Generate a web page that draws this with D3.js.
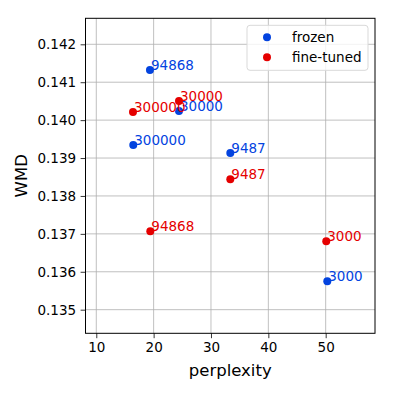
<!DOCTYPE html>
<html>
<head>
<meta charset="utf-8">
<script src="https://cdn.jsdelivr.net/npm/d3@7"></script>
<style>
  body { margin: 0; background: #fff; }
  text { font-family: "DejaVu Sans", sans-serif; }
</style>
</head>
<body>
<svg id="drawing_region"></svg>
<script>
// dataset sizes used as point labels
const labels = ["94868", "30000", "300000", "9487", "3000"];

const frozenPerplexity = [19.36, 24.42, 16.45, 33.37, 50.28];
const frozenWMD = [0.141322, 0.140241, 0.139344, 0.139133, 0.135748];

const tunedPerplexity = [19.42, 24.42, 16.40, 33.37, 50.10];
const tunedWMD = [0.137067, 0.140504, 0.140214, 0.138439, 0.136804];

const xTicks = [10, 20, 30, 40, 50];
const yTicks = [0.135, 0.136, 0.137, 0.138, 0.139, 0.140, 0.141, 0.142];

const series = [
    {name: "frozen", color: "#0343df", x: frozenPerplexity, y: frozenWMD},
    {name: "fine-tuned", color: "#e50000", x: tunedPerplexity, y: tunedWMD}
];

const config = {
    width: 393,
    height: 393,
    margin: {top: 18.3, right: 18, bottom: 59.7, left: 85.5}
};

const svg = d3.select('#drawing_region')
    .attr('width', config.width)
    .attr('height', config.height);

const inner_width = config.width - config.margin.left - config.margin.right;
const inner_height = config.height - config.margin.top - config.margin.bottom;

const chart = svg.append('g')
    .attr('transform', `translate(${config.margin.left}, ${config.margin.top})`);

const xscale = d3.scaleLinear()
    .domain([8.12, 58.6])
    .range([0, inner_width]);

const yscale = d3.scaleLinear()
    .domain([0.134377, 0.142686])
    .range([inner_height, 0]);

// grid
chart.append('g')
    .selectAll('line.vgrid')
    .data(xTicks)
    .join('line')
    .attr('x1', d => xscale(d)).attr('x2', d => xscale(d))
    .attr('y1', 0).attr('y2', inner_height)
    .attr('stroke', '#b0b0b0').attr('stroke-width', 0.8);

chart.append('g')
    .selectAll('line.hgrid')
    .data(yTicks)
    .join('line')
    .attr('y1', d => yscale(d)).attr('y2', d => yscale(d))
    .attr('x1', 0).attr('x2', inner_width)
    .attr('stroke', '#b0b0b0').attr('stroke-width', 0.8);

// axes
const xaxis = d3.axisBottom(xscale)
    .tickValues(xTicks)
    .tickFormat(d3.format('d'))
    .tickSizeInner(4.9)
    .tickSizeOuter(0)
    .tickPadding(4.5);

const yaxis = d3.axisLeft(yscale)
    .tickValues(yTicks)
    .tickFormat(d3.format('.3f'))
    .tickSizeInner(4.9)
    .tickSizeOuter(0)
    .tickPadding(4.5);

const xg = chart.append('g')
    .attr('transform', `translate(0, ${inner_height})`)
    .call(xaxis);

const yg = chart.append('g')
    .call(yaxis);

[xg, yg].forEach(g => {
    g.select('.domain').remove();
    g.selectAll('.tick line').attr('stroke', '#000').attr('stroke-width', 0.8);
    g.selectAll('.tick text')
        .attr('fill', '#000')
        .style('font-size', '13.5px')
        .style('font-family', '"DejaVu Sans", sans-serif');
});

// frame
chart.append('rect')
    .attr('width', inner_width)
    .attr('height', inner_height)
    .attr('fill', 'none')
    .attr('stroke', '#000')
    .attr('stroke-width', 1);

// points and labels
series.forEach(s => {
    const pts = s.x.map((v, i) => ({x: v, y: s.y[i], label: labels[i]}));
    chart.append('g')
        .selectAll('circle')
        .data(pts)
        .join('circle')
        .attr('cx', d => xscale(d.x))
        .attr('cy', d => yscale(d.y))
        .attr('r', 4)
        .attr('fill', s.color);
    chart.append('g')
        .selectAll('text')
        .data(pts)
        .join('text')
        .attr('x', d => xscale(d.x) + 1)
        .attr('y', d => yscale(d.y))
        .attr('fill', s.color)
        .style('font-size', '13.5px')
        .text(d => d.label);
});

// legend
const legend = chart.append('g')
    .attr('transform', `translate(${inner_width - 128}, 7)`);

legend.append('rect')
    .attr('width', 121)
    .attr('height', 45)
    .attr('rx', 3)
    .attr('fill', '#fff')
    .attr('fill-opacity', 0.8)
    .attr('stroke', '#d9d9d9');

legend.selectAll('circle')
    .data(series)
    .join('circle')
    .attr('cx', 20)
    .attr('cy', (d, i) => 12 + i * 20)
    .attr('r', 4)
    .attr('fill', d => d.color);

legend.selectAll('text')
    .data(series)
    .join('text')
    .attr('x', 45)
    .attr('y', (d, i) => 12 + i * 20)
    .attr('dy', '0.35em')
    .style('font-size', '13.5px')
    .attr('fill', '#000')
    .text(d => d.name);

// axis titles
svg.append('text')
    .attr('x', config.margin.left + inner_width / 2)
    .attr('y', 376)
    .attr('text-anchor', 'middle')
    .style('font-size', '16.5px')
    .text('perplexity');

svg.append('text')
    .attr('transform', `translate(27, ${config.margin.top + inner_height / 2}) rotate(-90)`)
    .attr('text-anchor', 'middle')
    .style('font-size', '16.5px')
    .text('WMD');
</script>
</body>
</html>
